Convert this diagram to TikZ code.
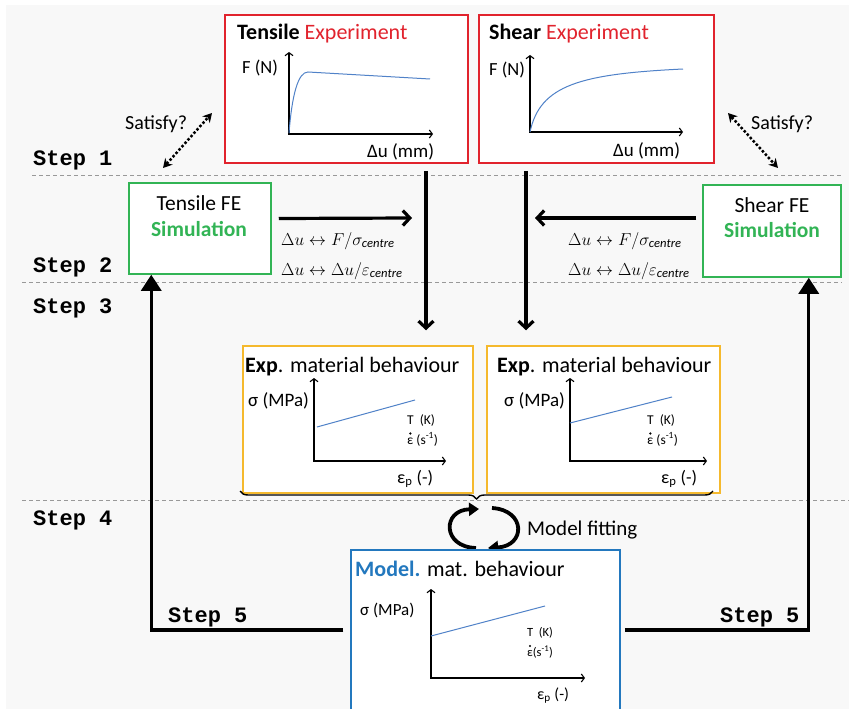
\documentclass[tikz,border=0pt]{standalone}
\usepackage{fontspec}
\setmainfont{Carlito}
\setmonofont{Liberation Mono}
\usetikzlibrary{arrows.meta}
\usetikzlibrary{calc}
\usetikzlibrary{decorations.pathreplacing}
\definecolor{expred}{RGB}{225,35,45}
\definecolor{simgreen}{RGB}{50,180,85}
\definecolor{matyellow}{RGB}{245,185,45}
\definecolor{modblue}{RGB}{35,120,190}
\definecolor{curveblue}{RGB}{80,130,200}
\definecolor{bggray}{RGB}{248,248,248}
\newcommand\fsz[1]{\fontsize{#1}{#1}\selectfont}
\tikzset{
  box/.style 2 args= {draw, fill=white, line width=1.5pt, minimum width=#1, minimum height=#2, inner sep=0},
  txt/.style= {anchor=base west, inner sep=0},
  steplbl/.style= {txt, font=\ttfamily\bfseries\fsz{22}},
  sep/.style= {draw=gray!80, line width=0.8pt, dash pattern=on 4pt off 3pt},
  axis/.style= {{Straight Barb[length=3pt,width=8pt]}-{Straight Barb[length=3pt,width=8pt]}, line width=1.1pt},
  curve/.style= {curveblue, line width=1pt},
  flow/.style= {-{Straight Barb[length=7pt,width=15pt]}, line width=3.2pt},
  ret/.style= {-{Triangle[length=16pt,width=20pt]}, line width=3.2pt},
  chk/.style= {{Stealth[length=9pt,width=10pt]}-{Stealth[length=9pt,width=10pt]}, line width=2.5pt, dotted},
  cyc/.style= {-{Triangle[length=10pt,width=13pt]}, line width=3.8pt},
}

\begin{document}
\begin{tikzpicture}[x=1pt, y=-1pt]
  \useasboundingbox[fill=bggray] (0,0) rectangle (849,709);
  \fill[white] (0,0) rectangle (6,709);
  \fill[white] (0,0) rectangle (849,5);

  % separators and steps
  \draw[sep] (32,175) -- (842,175);
  \draw[sep] (22,282) -- (842,282);
  \draw[sep] (22,500) -- (849,500);
  \node[steplbl] (s1) at (33,165) {Step 1};
  \node[steplbl] (s2) at (33,272) {Step 2};
  \node[steplbl] (s3) at (33,313) {Step 3};
  \node[steplbl] (s4) at (33,525) {Step 4};
  \node[steplbl] (s5l) at (168,622) {Step 5};
  \node[steplbl] (s5r) at (720,622) {Step 5};

  % experiments
  \node[box={243pt}{148pt}, draw=expred] (texp) at (346.5,89) {};
  \node[box={235pt}{148pt}, draw=expred] (sexp) at (596.5,89) {};
  \node[txt, font=\fsz{22}] (texpt) at (237,40) {\textbf{Tensile} \textcolor{expred}{Experiment}};
  \node[txt, font=\fsz{22}] (sexpt) at (489,40) {\textbf{Shear} \textcolor{expred}{Experiment}};
  \draw[axis] (289,52) -- (289,134) -- (433,134);
  \draw[curve] (289,133) .. controls (292,95) and (298,72) .. (308,72) -- (430,79);
  \node[txt, font=\fsz{18.5}] (tfy) at (242,74) {F (N)};
  \node[txt, font=\fsz{19}] (tfx) at (367,157) {Δu (mm)};
  \draw[axis] (530,55) -- (530,132) -- (683,132);
  \draw[curve] (530,132) .. controls (540,85) and (580,74) .. (683,69);
  \node[txt, font=\fsz{18.5}] (sfy) at (489,75) {F (N)};
  \node[txt, font=\fsz{19}] (sfx) at (613,156) {Δu (mm)};

  % simulations
  \node[box={142pt}{91pt}, draw=simgreen] (tfe) at (200,228.5) {};
  \node[box={138pt}{92pt}, draw=simgreen] (sfe) at (772,231) {};
  \node[anchor=base, inner sep=0, font=\fsz{21.5}] (tfet) at (199,210) {Tensile FE};
  \node[anchor=base, inner sep=0, font=\fsz{21.5}\bfseries, text=simgreen] (tfes) at (199,236) {Simulation};
  \node[anchor=base, inner sep=0, font=\fsz{21.5}] (sfet) at (772,212) {Shear FE};
  \node[anchor=base, inner sep=0, font=\fsz{21.5}\bfseries, text=simgreen] (sfes) at (772,237) {Simulation};

  % satisfy?
  \node[txt, font=\fsz{20}] (satl) at (125,129) {Satisfy?};
  \node[txt, font=\fsz{20}] (satr) at (751,129) {Satisfy?};
  \coordinate (cl1) at (163,168);
  \coordinate (cl2) at (212,113);
  \coordinate (cr1) at (728,113);
  \coordinate (cr2) at (778,168);
  \draw[chk] (cl1) -- (cl2);
  \draw[chk] (cr1) -- (cr2);

  % transfer
  \coordinate (tin) at (412,218);
  \coordinate (sin) at (535,218);
  \draw[flow] ([shift={(7,-10)}]tfe.east) -- (tin);
  \draw[flow] ([shift={(-6,-13)}]sfe.west) -- (sin);
  \node[txt, font=\fsz{18}] (tm1) at (281,245) {$\Delta u \leftrightarrow F/\sigma_{\mathit{centre}}$};
  \node[txt, font=\fsz{18}] (tm2) at (281,275) {$\Delta u \leftrightarrow \Delta u/\varepsilon_{\mathit{centre}}$};
  \node[txt, font=\fsz{18}] (sm1) at (568,245) {$\Delta u \leftrightarrow F/\sigma_{\mathit{centre}}$};
  \node[txt, font=\fsz{18}] (sm2) at (568,275) {$\Delta u \leftrightarrow \Delta u/\varepsilon_{\mathit{centre}}$};

  % material behaviour
  \node[box={230pt}{147pt}, draw=matyellow] (lexp) at (358,419.5) {};
  \node[box={233pt}{147pt}, draw=matyellow] (rexp) at (603.5,419.5) {};
  \draw[flow] ($(426,0 |- texp.south)+(0,7)$) -- ($(426,0 |- lexp.north)+(0,-15)$);
  \draw[flow] ($(526,0 |- sexp.south)+(0,7)$) -- ($(526,0 |- rexp.north)+(0,-15)$);
  \node[txt, font=\fsz{22}] (lexpt) at (245,372) {\textbf{Exp}. material behaviour};
  \node[txt, font=\fsz{22}] (rexpt) at (497,372) {\textbf{Exp}. material behaviour};
  \draw[axis] (314,378) -- (314,461) -- (446,461);
  \draw[curve] (317,427) -- (415,400);
  \node[txt, font=\fsz{19}] (lsy) at (248,406) {σ (MPa)};
  \node[txt, font=\fsz{13.5}] (lst) at (407,424) {T\ \ (K)};
  \node[txt, font=\fsz{13.5}] (lse) at (407,444) {ε (s\textsuperscript{-1})};
  \fill ([shift={(3.3,-10.5)}]lse.base west) circle (1.3pt);
  \node[txt, font=\fsz{18}] (lsx) at (397,483) {ε\textsubscript{p} (-)};
  \draw[axis] (570,378) -- (570,461) -- (707,461);
  \draw[curve] (570,423) -- (672,397);
  \node[txt, font=\fsz{19}] (rsy) at (504,406) {σ (MPa)};
  \node[txt, font=\fsz{13.5}] (rst) at (647,424) {T\ \ (K)};
  \node[txt, font=\fsz{13.5}] (rse) at (647,444) {ε (s\textsuperscript{-1})};
  \fill ([shift={(3.3,-10.5)}]rse.base west) circle (1.3pt);
  \node[txt, font=\fsz{18}] (rsx) at (661,483) {ε\textsubscript{p} (-)};

  % fitting
  \draw[decorate, decoration={brace, mirror, amplitude=8pt}, line width=1.4pt] (240,491) -- (713,491);
  \draw[cyc] (476,548) .. controls (442,547) and (442,510) .. (479,509);
  \draw[cyc] (492,508) .. controls (526,510) and (526,546) .. (488,548);
  \node[txt, font=\fsz{21}] (fit) at (527,535) {Model fitting};

  % model
  \node[box={269pt}{161pt}, draw=modblue] (model) at (485.5,630.5) {};
  \node[txt, font=\fsz{22}] (modt) at (355,576) {\textcolor{modblue}{\textbf{Model.}} mat. behaviour};
  \draw[axis] (431,589) -- (431,678) -- (585,678);
  \draw[curve] (431,636) -- (545,606);
  \node[txt, font=\fsz{12.5}] (mst) at (527,636) {T\ \ (K)};
  \node[txt, font=\fsz{12.5}] (mse) at (527,656) {ε(s\textsuperscript{-1})};
  \fill ([shift={(3,-10)}]mse.base west) circle (1.2pt);
  \node[txt, font=\fsz{17}] (msy) at (360,615) {σ (MPa)};
  \node[txt, font=\fsz{16}] (msx) at (537,699) {ε\textsubscript{p} (-)};

  % step 5 returns
  \draw[ret] ($(model.west |- 0,630)+(-7,0)$) -| ([xshift=23pt]tfe.south west);
  \draw[ret] ($(model.east |- 0,630)+(4,0)$) -| ([xshift=-33pt]sfe.south east);
\end{tikzpicture}
\end{document}
